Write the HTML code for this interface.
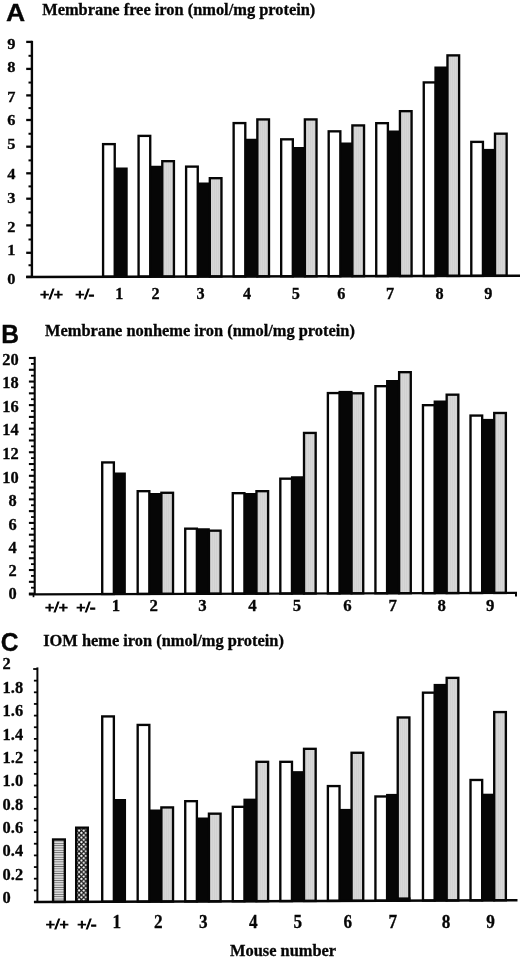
<!DOCTYPE html>
<html><head><meta charset="utf-8"><title>Figure</title>
<style>
html,body{margin:0;padding:0;background:#fff;}
body{width:520px;height:958px;overflow:hidden;font-family:"Liberation Serif",serif;}
svg{display:block;filter:grayscale(1);}
svg text{font-family:"Liberation Serif",serif;font-weight:bold;fill:#060606;stroke:#060606;stroke-width:0.3px;}
svg text.ss{font-family:"Liberation Sans",sans-serif;}
</style></head><body>
<svg width="520" height="958" viewBox="0 0 520 958">
<defs>
<pattern id="gr" width="2" height="2" patternUnits="userSpaceOnUse"><rect width="2" height="2" fill="#d7d7d7"/><rect width="1" height="2" fill="#d1d1d1"/></pattern>
<pattern id="hs" width="4" height="2.32" patternUnits="userSpaceOnUse"><rect width="4" height="2.32" fill="#fff"/><rect width="4" height="1.15" y="0.6" fill="#6a6a6a"/></pattern>
<pattern id="xh" x="0.9" y="0.3" width="4.6" height="4.6" patternUnits="userSpaceOnUse"><rect width="4.6" height="4.6" fill="#fff"/><path d="M-1 -1L5.6 5.6M5.6 -1L-1 5.6" stroke="#151515" stroke-width="1.25"/></pattern>
</defs>
<rect width="520" height="958" fill="#fff"/>
<g opacity="0.999">
<text transform="translate(5.90,21.00) scale(1.07,1)" font-size="24.8" class="ss">A</text>
<text transform="translate(42.20,15.10) scale(1.0,1)" font-size="16.40" text-anchor="start">Membrane free iron (nmol/mg protein)</text>
<line x1="31.90" y1="40.80" x2="31.90" y2="277.50" stroke="#060606" stroke-width="2.4"/>
<line x1="26.20" y1="41.90" x2="31.90" y2="41.90" stroke="#060606" stroke-width="2.3"/>
<line x1="28.50" y1="55.80" x2="31.90" y2="55.80" stroke="#060606" stroke-width="2.0"/>
<line x1="26.20" y1="68.90" x2="31.90" y2="68.90" stroke="#060606" stroke-width="2.3"/>
<line x1="28.50" y1="82.55" x2="31.90" y2="82.55" stroke="#060606" stroke-width="2.0"/>
<line x1="26.20" y1="95.40" x2="31.90" y2="95.40" stroke="#060606" stroke-width="2.3"/>
<line x1="28.50" y1="108.10" x2="31.90" y2="108.10" stroke="#060606" stroke-width="2.0"/>
<line x1="26.20" y1="120.00" x2="31.90" y2="120.00" stroke="#060606" stroke-width="2.3"/>
<line x1="28.50" y1="133.75" x2="31.90" y2="133.75" stroke="#060606" stroke-width="2.0"/>
<line x1="26.20" y1="146.70" x2="31.90" y2="146.70" stroke="#060606" stroke-width="2.3"/>
<line x1="28.50" y1="160.40" x2="31.90" y2="160.40" stroke="#060606" stroke-width="2.0"/>
<line x1="26.20" y1="173.30" x2="31.90" y2="173.30" stroke="#060606" stroke-width="2.3"/>
<line x1="28.50" y1="186.40" x2="31.90" y2="186.40" stroke="#060606" stroke-width="2.0"/>
<line x1="26.20" y1="198.70" x2="31.90" y2="198.70" stroke="#060606" stroke-width="2.3"/>
<line x1="28.50" y1="212.45" x2="31.90" y2="212.45" stroke="#060606" stroke-width="2.0"/>
<line x1="26.20" y1="225.40" x2="31.90" y2="225.40" stroke="#060606" stroke-width="2.3"/>
<line x1="28.50" y1="239.50" x2="31.90" y2="239.50" stroke="#060606" stroke-width="2.0"/>
<line x1="26.20" y1="252.80" x2="31.90" y2="252.80" stroke="#060606" stroke-width="2.3"/>
<line x1="28.50" y1="265.25" x2="31.90" y2="265.25" stroke="#060606" stroke-width="2.0"/>
<line x1="26.20" y1="276.90" x2="31.90" y2="276.90" stroke="#060606" stroke-width="2.3"/>
<text transform="translate(15.40,49.30) scale(1.058,1)" font-size="15.50" text-anchor="end">9</text>
<text transform="translate(15.40,72.30) scale(1.058,1)" font-size="15.50" text-anchor="end">8</text>
<text transform="translate(15.40,101.60) scale(1.058,1)" font-size="15.50" text-anchor="end">7</text>
<text transform="translate(15.40,124.60) scale(1.058,1)" font-size="15.50" text-anchor="end">6</text>
<text transform="translate(15.40,148.70) scale(1.058,1)" font-size="15.50" text-anchor="end">5</text>
<text transform="translate(15.40,178.60) scale(1.058,1)" font-size="15.50" text-anchor="end">4</text>
<text transform="translate(15.40,202.60) scale(1.058,1)" font-size="15.50" text-anchor="end">3</text>
<text transform="translate(15.40,231.80) scale(1.058,1)" font-size="15.50" text-anchor="end">2</text>
<text transform="translate(15.40,255.30) scale(1.058,1)" font-size="15.50" text-anchor="end">1</text>
<text transform="translate(15.40,284.20) scale(1.058,1)" font-size="15.50" text-anchor="end">0</text>
<rect x="113.70" y="167.50" width="14.00" height="110.19" fill="#060606"/>
<rect x="149.20" y="165.75" width="14.00" height="111.86" fill="#060606"/>
<rect x="196.73" y="182.50" width="14.00" height="95.01" fill="#060606"/>
<rect x="244.26" y="138.75" width="14.00" height="138.65" fill="#060606"/>
<rect x="291.79" y="147.00" width="14.00" height="130.29" fill="#060606"/>
<rect x="339.32" y="142.50" width="14.00" height="134.69" fill="#060606"/>
<rect x="386.85" y="130.50" width="14.00" height="146.58" fill="#060606"/>
<rect x="434.38" y="66.50" width="14.00" height="210.48" fill="#060606"/>
<rect x="481.91" y="148.90" width="14.00" height="127.97" fill="#060606"/>
<rect x="103.08" y="144.12" width="11.65" height="132.59" fill="#fff" stroke="#060606" stroke-width="2.35"/>
<rect x="138.58" y="135.88" width="11.65" height="140.76" fill="#fff" stroke="#060606" stroke-width="2.35"/>
<rect x="162.28" y="161.18" width="11.65" height="115.41" fill="url(#gr)" stroke="#060606" stroke-width="2.35"/>
<rect x="186.11" y="166.62" width="11.65" height="109.91" fill="#fff" stroke="#060606" stroke-width="2.35"/>
<rect x="209.81" y="178.18" width="11.65" height="98.30" fill="url(#gr)" stroke="#060606" stroke-width="2.35"/>
<rect x="233.64" y="123.08" width="11.65" height="153.35" fill="#fff" stroke="#060606" stroke-width="2.35"/>
<rect x="257.34" y="119.42" width="11.65" height="156.95" fill="url(#gr)" stroke="#060606" stroke-width="2.35"/>
<rect x="281.17" y="139.33" width="11.65" height="136.99" fill="#fff" stroke="#060606" stroke-width="2.35"/>
<rect x="304.87" y="119.42" width="11.65" height="156.84" fill="url(#gr)" stroke="#060606" stroke-width="2.35"/>
<rect x="328.69" y="131.33" width="11.65" height="144.89" fill="#fff" stroke="#060606" stroke-width="2.35"/>
<rect x="352.39" y="125.42" width="11.65" height="150.74" fill="url(#gr)" stroke="#060606" stroke-width="2.35"/>
<rect x="376.23" y="123.17" width="11.65" height="152.93" fill="#fff" stroke="#060606" stroke-width="2.35"/>
<rect x="399.93" y="111.17" width="11.65" height="164.88" fill="url(#gr)" stroke="#060606" stroke-width="2.35"/>
<rect x="423.76" y="82.42" width="11.65" height="193.58" fill="#fff" stroke="#060606" stroke-width="2.35"/>
<rect x="447.46" y="55.38" width="11.65" height="220.57" fill="url(#gr)" stroke="#060606" stroke-width="2.35"/>
<rect x="471.29" y="141.88" width="11.65" height="134.02" fill="#fff" stroke="#060606" stroke-width="2.35"/>
<rect x="494.99" y="133.68" width="11.65" height="142.17" fill="url(#gr)" stroke="#060606" stroke-width="2.35"/>
<line x1="26.20" y1="276.90" x2="520.00" y2="275.80" stroke="#060606" stroke-width="2.5"/>
<text transform="translate(51.40,298.70) scale(1.1,1)" font-size="14.73" text-anchor="middle" style="stroke-width:0.9px">+/+</text>
<text transform="translate(84.70,298.70) scale(1.1,1)" font-size="14.73" text-anchor="middle" style="stroke-width:0.9px">+/-</text>
<text transform="translate(119.20,299.20) scale(1.0,1)" font-size="16.20" text-anchor="middle">1</text>
<text transform="translate(155.50,299.20) scale(1.0,1)" font-size="16.20" text-anchor="middle">2</text>
<text transform="translate(200.50,299.20) scale(1.0,1)" font-size="16.20" text-anchor="middle">3</text>
<text transform="translate(247.00,299.20) scale(1.0,1)" font-size="16.20" text-anchor="middle">4</text>
<text transform="translate(295.75,299.20) scale(1.0,1)" font-size="16.20" text-anchor="middle">5</text>
<text transform="translate(341.25,299.20) scale(1.0,1)" font-size="16.20" text-anchor="middle">6</text>
<text transform="translate(390.00,299.20) scale(1.0,1)" font-size="16.20" text-anchor="middle">7</text>
<text transform="translate(439.60,299.20) scale(1.0,1)" font-size="16.20" text-anchor="middle">8</text>
<text transform="translate(488.30,299.20) scale(1.0,1)" font-size="16.20" text-anchor="middle">9</text>
<text transform="translate(1.30,343.20) scale(0.97,1)" font-size="25.4" class="ss">B</text>
<text transform="translate(45.00,335.60) scale(1.0,1)" font-size="16.40" text-anchor="start">Membrane nonheme iron (nmol/mg protein)</text>
<line x1="34.70" y1="356.80" x2="34.70" y2="594.50" stroke="#060606" stroke-width="2.1"/>
<line x1="28.90" y1="358.00" x2="34.70" y2="358.00" stroke="#060606" stroke-width="2.1"/>
<line x1="31.00" y1="363.89" x2="34.70" y2="363.89" stroke="#060606" stroke-width="1.8"/>
<line x1="28.90" y1="369.78" x2="34.70" y2="369.78" stroke="#060606" stroke-width="2.1"/>
<line x1="31.00" y1="375.67" x2="34.70" y2="375.67" stroke="#060606" stroke-width="1.8"/>
<line x1="28.90" y1="381.56" x2="34.70" y2="381.56" stroke="#060606" stroke-width="2.1"/>
<line x1="31.00" y1="387.45" x2="34.70" y2="387.45" stroke="#060606" stroke-width="1.8"/>
<line x1="28.90" y1="393.34" x2="34.70" y2="393.34" stroke="#060606" stroke-width="2.1"/>
<line x1="31.00" y1="399.23" x2="34.70" y2="399.23" stroke="#060606" stroke-width="1.8"/>
<line x1="28.90" y1="405.12" x2="34.70" y2="405.12" stroke="#060606" stroke-width="2.1"/>
<line x1="31.00" y1="411.01" x2="34.70" y2="411.01" stroke="#060606" stroke-width="1.8"/>
<line x1="28.90" y1="416.90" x2="34.70" y2="416.90" stroke="#060606" stroke-width="2.1"/>
<line x1="31.00" y1="422.79" x2="34.70" y2="422.79" stroke="#060606" stroke-width="1.8"/>
<line x1="28.90" y1="428.68" x2="34.70" y2="428.68" stroke="#060606" stroke-width="2.1"/>
<line x1="31.00" y1="434.57" x2="34.70" y2="434.57" stroke="#060606" stroke-width="1.8"/>
<line x1="28.90" y1="440.46" x2="34.70" y2="440.46" stroke="#060606" stroke-width="2.1"/>
<line x1="31.00" y1="446.35" x2="34.70" y2="446.35" stroke="#060606" stroke-width="1.8"/>
<line x1="28.90" y1="452.24" x2="34.70" y2="452.24" stroke="#060606" stroke-width="2.1"/>
<line x1="31.00" y1="458.13" x2="34.70" y2="458.13" stroke="#060606" stroke-width="1.8"/>
<line x1="28.90" y1="464.02" x2="34.70" y2="464.02" stroke="#060606" stroke-width="2.1"/>
<line x1="31.00" y1="469.91" x2="34.70" y2="469.91" stroke="#060606" stroke-width="1.8"/>
<line x1="28.90" y1="475.80" x2="34.70" y2="475.80" stroke="#060606" stroke-width="2.1"/>
<line x1="31.00" y1="481.69" x2="34.70" y2="481.69" stroke="#060606" stroke-width="1.8"/>
<line x1="28.90" y1="487.58" x2="34.70" y2="487.58" stroke="#060606" stroke-width="2.1"/>
<line x1="31.00" y1="493.47" x2="34.70" y2="493.47" stroke="#060606" stroke-width="1.8"/>
<line x1="28.90" y1="499.36" x2="34.70" y2="499.36" stroke="#060606" stroke-width="2.1"/>
<line x1="31.00" y1="505.25" x2="34.70" y2="505.25" stroke="#060606" stroke-width="1.8"/>
<line x1="28.90" y1="511.14" x2="34.70" y2="511.14" stroke="#060606" stroke-width="2.1"/>
<line x1="31.00" y1="517.03" x2="34.70" y2="517.03" stroke="#060606" stroke-width="1.8"/>
<line x1="28.90" y1="522.92" x2="34.70" y2="522.92" stroke="#060606" stroke-width="2.1"/>
<line x1="31.00" y1="528.81" x2="34.70" y2="528.81" stroke="#060606" stroke-width="1.8"/>
<line x1="28.90" y1="534.70" x2="34.70" y2="534.70" stroke="#060606" stroke-width="2.1"/>
<line x1="31.00" y1="540.59" x2="34.70" y2="540.59" stroke="#060606" stroke-width="1.8"/>
<line x1="28.90" y1="546.48" x2="34.70" y2="546.48" stroke="#060606" stroke-width="2.1"/>
<line x1="31.00" y1="552.37" x2="34.70" y2="552.37" stroke="#060606" stroke-width="1.8"/>
<line x1="28.90" y1="558.26" x2="34.70" y2="558.26" stroke="#060606" stroke-width="2.1"/>
<line x1="31.00" y1="564.15" x2="34.70" y2="564.15" stroke="#060606" stroke-width="1.8"/>
<line x1="28.90" y1="570.04" x2="34.70" y2="570.04" stroke="#060606" stroke-width="2.1"/>
<line x1="31.00" y1="575.93" x2="34.70" y2="575.93" stroke="#060606" stroke-width="1.8"/>
<line x1="28.90" y1="581.82" x2="34.70" y2="581.82" stroke="#060606" stroke-width="2.1"/>
<line x1="31.00" y1="587.71" x2="34.70" y2="587.71" stroke="#060606" stroke-width="1.8"/>
<line x1="28.90" y1="593.60" x2="34.70" y2="593.60" stroke="#060606" stroke-width="2.1"/>
<text transform="translate(18.60,365.10) scale(1.0,1)" font-size="16.40" text-anchor="end">20</text>
<text transform="translate(18.60,388.10) scale(1.0,1)" font-size="16.40" text-anchor="end">18</text>
<text transform="translate(18.60,412.10) scale(1.0,1)" font-size="16.40" text-anchor="end">16</text>
<text transform="translate(18.60,435.10) scale(1.0,1)" font-size="16.40" text-anchor="end">14</text>
<text transform="translate(18.60,458.85) scale(1.0,1)" font-size="16.40" text-anchor="end">12</text>
<text transform="translate(18.60,482.60) scale(1.0,1)" font-size="16.40" text-anchor="end">10</text>
<text transform="translate(16.70,506.10) scale(1.0,1)" font-size="16.40" text-anchor="end">8</text>
<text transform="translate(16.70,529.85) scale(1.0,1)" font-size="16.40" text-anchor="end">6</text>
<text transform="translate(16.70,553.10) scale(1.0,1)" font-size="16.40" text-anchor="end">4</text>
<text transform="translate(16.70,576.10) scale(1.0,1)" font-size="16.40" text-anchor="end">2</text>
<text transform="translate(16.70,599.00) scale(1.0,1)" font-size="16.40" text-anchor="end">0</text>
<rect x="112.85" y="472.50" width="13.00" height="122.46" fill="#060606"/>
<rect x="148.30" y="493.00" width="14.00" height="101.86" fill="#060606"/>
<rect x="195.85" y="528.25" width="14.00" height="66.49" fill="#060606"/>
<rect x="243.40" y="493.00" width="14.00" height="101.61" fill="#060606"/>
<rect x="290.95" y="476.25" width="14.00" height="118.23" fill="#060606"/>
<rect x="338.50" y="390.90" width="14.00" height="203.46" fill="#060606"/>
<rect x="386.05" y="380.00" width="14.00" height="214.23" fill="#060606"/>
<rect x="433.60" y="400.50" width="14.00" height="193.60" fill="#060606"/>
<rect x="481.15" y="418.90" width="14.00" height="175.08" fill="#060606"/>
<rect x="102.22" y="462.43" width="11.65" height="131.57" fill="#fff" stroke="#060606" stroke-width="2.35"/>
<rect x="137.68" y="491.18" width="11.65" height="102.72" fill="#fff" stroke="#060606" stroke-width="2.35"/>
<rect x="161.38" y="492.78" width="11.65" height="101.06" fill="url(#gr)" stroke="#060606" stroke-width="2.35"/>
<rect x="185.23" y="528.67" width="11.65" height="65.09" fill="#fff" stroke="#060606" stroke-width="2.35"/>
<rect x="208.93" y="530.67" width="11.65" height="63.03" fill="url(#gr)" stroke="#060606" stroke-width="2.35"/>
<rect x="232.78" y="493.18" width="11.65" height="100.47" fill="#fff" stroke="#060606" stroke-width="2.35"/>
<rect x="256.47" y="491.18" width="11.65" height="102.40" fill="url(#gr)" stroke="#060606" stroke-width="2.35"/>
<rect x="280.32" y="478.68" width="11.65" height="114.84" fill="#fff" stroke="#060606" stroke-width="2.35"/>
<rect x="304.02" y="432.93" width="11.65" height="160.53" fill="url(#gr)" stroke="#060606" stroke-width="2.35"/>
<rect x="327.88" y="393.07" width="11.65" height="200.31" fill="#fff" stroke="#060606" stroke-width="2.35"/>
<rect x="351.57" y="393.28" width="11.65" height="200.05" fill="url(#gr)" stroke="#060606" stroke-width="2.35"/>
<rect x="375.43" y="386.18" width="11.65" height="207.09" fill="#fff" stroke="#060606" stroke-width="2.35"/>
<rect x="399.12" y="372.18" width="11.65" height="221.02" fill="url(#gr)" stroke="#060606" stroke-width="2.35"/>
<rect x="422.97" y="405.18" width="11.65" height="187.96" fill="#fff" stroke="#060606" stroke-width="2.35"/>
<rect x="446.67" y="394.68" width="11.65" height="198.40" fill="url(#gr)" stroke="#060606" stroke-width="2.35"/>
<rect x="470.52" y="415.57" width="11.65" height="177.43" fill="#fff" stroke="#060606" stroke-width="2.35"/>
<rect x="494.22" y="412.98" width="11.65" height="179.97" fill="url(#gr)" stroke="#060606" stroke-width="2.35"/>
<line x1="28.90" y1="594.30" x2="517.00" y2="592.90" stroke="#060606" stroke-width="2.3"/>
<line x1="33.50" y1="594.00" x2="33.50" y2="597.20" stroke="#060606" stroke-width="1.7"/>
<line x1="516.00" y1="592.90" x2="516.00" y2="596.50" stroke="#060606" stroke-width="2.0"/>
<text transform="translate(56.60,611.90) scale(1.1,1)" font-size="14.73" text-anchor="middle" style="stroke-width:0.9px">+/+</text>
<text transform="translate(85.80,611.90) scale(1.1,1)" font-size="14.73" text-anchor="middle" style="stroke-width:0.9px">+/-</text>
<text transform="translate(116.00,610.60) scale(1.0,1)" font-size="16.80" text-anchor="middle">1</text>
<text transform="translate(153.75,610.60) scale(1.0,1)" font-size="16.80" text-anchor="middle">2</text>
<text transform="translate(202.50,610.60) scale(1.0,1)" font-size="16.80" text-anchor="middle">3</text>
<text transform="translate(252.50,610.60) scale(1.0,1)" font-size="16.80" text-anchor="middle">4</text>
<text transform="translate(296.85,610.60) scale(1.0,1)" font-size="16.80" text-anchor="middle">5</text>
<text transform="translate(347.40,610.60) scale(1.0,1)" font-size="16.80" text-anchor="middle">6</text>
<text transform="translate(392.60,610.60) scale(1.0,1)" font-size="16.80" text-anchor="middle">7</text>
<text transform="translate(441.60,610.60) scale(1.0,1)" font-size="16.80" text-anchor="middle">8</text>
<text transform="translate(490.20,610.60) scale(1.0,1)" font-size="16.80" text-anchor="middle">9</text>
<text transform="translate(0.70,651.30) scale(0.955,1)" font-size="25.8" class="ss">C</text>
<text transform="translate(43.20,645.90) scale(1.0,1)" font-size="16.40" text-anchor="start">IOM heme iron (nmol/mg protein)</text>
<line x1="37.40" y1="667.40" x2="37.40" y2="902.50" stroke="#060606" stroke-width="2"/>
<line x1="33.20" y1="669.00" x2="37.40" y2="669.00" stroke="#060606" stroke-width="1.8"/>
<line x1="33.90" y1="680.65" x2="37.40" y2="680.65" stroke="#060606" stroke-width="1.8"/>
<line x1="33.90" y1="692.30" x2="37.40" y2="692.30" stroke="#060606" stroke-width="1.8"/>
<line x1="33.90" y1="703.95" x2="37.40" y2="703.95" stroke="#060606" stroke-width="1.8"/>
<line x1="33.90" y1="715.60" x2="37.40" y2="715.60" stroke="#060606" stroke-width="1.8"/>
<line x1="33.90" y1="727.25" x2="37.40" y2="727.25" stroke="#060606" stroke-width="1.8"/>
<line x1="33.90" y1="738.90" x2="37.40" y2="738.90" stroke="#060606" stroke-width="1.8"/>
<line x1="33.90" y1="750.55" x2="37.40" y2="750.55" stroke="#060606" stroke-width="1.8"/>
<line x1="33.90" y1="762.20" x2="37.40" y2="762.20" stroke="#060606" stroke-width="1.8"/>
<line x1="33.90" y1="773.85" x2="37.40" y2="773.85" stroke="#060606" stroke-width="1.8"/>
<line x1="33.90" y1="785.50" x2="37.40" y2="785.50" stroke="#060606" stroke-width="1.8"/>
<line x1="33.90" y1="797.15" x2="37.40" y2="797.15" stroke="#060606" stroke-width="1.8"/>
<line x1="33.90" y1="808.80" x2="37.40" y2="808.80" stroke="#060606" stroke-width="1.8"/>
<line x1="33.90" y1="820.45" x2="37.40" y2="820.45" stroke="#060606" stroke-width="1.8"/>
<line x1="33.90" y1="832.10" x2="37.40" y2="832.10" stroke="#060606" stroke-width="1.8"/>
<line x1="33.90" y1="843.75" x2="37.40" y2="843.75" stroke="#060606" stroke-width="1.8"/>
<line x1="33.90" y1="855.40" x2="37.40" y2="855.40" stroke="#060606" stroke-width="1.8"/>
<line x1="33.90" y1="867.05" x2="37.40" y2="867.05" stroke="#060606" stroke-width="1.8"/>
<line x1="33.90" y1="878.70" x2="37.40" y2="878.70" stroke="#060606" stroke-width="1.8"/>
<line x1="33.90" y1="890.35" x2="37.40" y2="890.35" stroke="#060606" stroke-width="1.8"/>
<line x1="33.90" y1="902.00" x2="37.40" y2="902.00" stroke="#060606" stroke-width="1.8"/>
<text transform="translate(2.60,668.70) scale(1.03,1)" font-size="15.92" text-anchor="start">2</text>
<text transform="translate(2.60,692.60) scale(1.03,1)" font-size="15.92" text-anchor="start">1.8</text>
<text transform="translate(2.60,715.90) scale(1.03,1)" font-size="15.92" text-anchor="start">1.6</text>
<text transform="translate(2.60,739.60) scale(1.03,1)" font-size="15.92" text-anchor="start">1.4</text>
<text transform="translate(2.60,763.10) scale(1.03,1)" font-size="15.92" text-anchor="start">1.2</text>
<text transform="translate(2.60,786.40) scale(1.03,1)" font-size="15.92" text-anchor="start">1.0</text>
<text transform="translate(2.60,810.40) scale(1.03,1)" font-size="15.92" text-anchor="start">0.8</text>
<text transform="translate(2.60,833.30) scale(1.03,1)" font-size="15.92" text-anchor="start">0.6</text>
<text transform="translate(2.60,856.10) scale(1.03,1)" font-size="15.92" text-anchor="start">0.4</text>
<text transform="translate(2.60,879.60) scale(1.03,1)" font-size="15.92" text-anchor="start">0.2</text>
<text transform="translate(2.60,903.40) scale(1.03,1)" font-size="15.92" text-anchor="start">0</text>
<rect x="112.85" y="799.00" width="13.20" height="103.68" fill="#060606"/>
<rect x="148.30" y="809.50" width="14.00" height="93.05" fill="#060606"/>
<rect x="195.85" y="817.50" width="14.00" height="84.87" fill="#060606"/>
<rect x="243.40" y="798.65" width="14.00" height="103.55" fill="#060606"/>
<rect x="290.95" y="771.15" width="14.00" height="130.87" fill="#060606"/>
<rect x="338.50" y="808.90" width="14.00" height="92.94" fill="#060606"/>
<rect x="386.05" y="793.90" width="14.00" height="107.76" fill="#060606"/>
<rect x="433.60" y="683.90" width="14.00" height="217.59" fill="#060606"/>
<rect x="481.15" y="793.70" width="14.00" height="107.61" fill="#060606"/>
<rect x="53.07" y="839.47" width="11.75" height="62.43" fill="url(#hs)" stroke="#060606" stroke-width="2.35"/>
<rect x="76.17" y="827.67" width="11.65" height="74.15" fill="url(#xh)" stroke="#060606" stroke-width="2.35"/>
<rect x="102.22" y="716.42" width="11.65" height="185.30" fill="#fff" stroke="#060606" stroke-width="2.35"/>
<rect x="137.68" y="724.92" width="11.65" height="176.67" fill="#fff" stroke="#060606" stroke-width="2.35"/>
<rect x="161.38" y="807.42" width="11.65" height="94.08" fill="url(#gr)" stroke="#060606" stroke-width="2.35"/>
<rect x="185.23" y="801.17" width="11.65" height="100.24" fill="#fff" stroke="#060606" stroke-width="2.35"/>
<rect x="208.93" y="813.67" width="11.65" height="87.65" fill="url(#gr)" stroke="#060606" stroke-width="2.35"/>
<rect x="232.78" y="806.82" width="11.65" height="94.41" fill="#fff" stroke="#060606" stroke-width="2.35"/>
<rect x="256.47" y="761.82" width="11.65" height="139.33" fill="url(#gr)" stroke="#060606" stroke-width="2.35"/>
<rect x="280.32" y="761.82" width="11.65" height="139.24" fill="#fff" stroke="#060606" stroke-width="2.35"/>
<rect x="304.02" y="748.82" width="11.65" height="152.15" fill="url(#gr)" stroke="#060606" stroke-width="2.35"/>
<rect x="327.88" y="786.07" width="11.65" height="114.81" fill="#fff" stroke="#060606" stroke-width="2.35"/>
<rect x="351.57" y="752.77" width="11.65" height="148.02" fill="url(#gr)" stroke="#060606" stroke-width="2.35"/>
<rect x="375.43" y="796.47" width="11.65" height="104.23" fill="#fff" stroke="#060606" stroke-width="2.35"/>
<rect x="397.73" y="717.47" width="11.65" height="183.15" fill="url(#gr)" stroke="#060606" stroke-width="2.35"/>
<rect x="422.97" y="692.67" width="11.65" height="207.86" fill="#fff" stroke="#060606" stroke-width="2.35"/>
<rect x="446.67" y="677.88" width="11.65" height="222.57" fill="url(#gr)" stroke="#060606" stroke-width="2.35"/>
<rect x="470.52" y="779.97" width="11.65" height="120.38" fill="#fff" stroke="#060606" stroke-width="2.35"/>
<rect x="494.22" y="712.07" width="11.65" height="188.19" fill="url(#gr)" stroke="#060606" stroke-width="2.35"/>
<line x1="34.00" y1="902.00" x2="517.50" y2="900.20" stroke="#060606" stroke-width="2.5"/>
<rect x="397.5" y="897.4" width="13" height="3.5" fill="#060606"/>
<text transform="translate(57.30,928.50) scale(1.1,1)" font-size="14.73" text-anchor="middle" style="stroke-width:0.9px">+/+</text>
<text transform="translate(86.80,928.50) scale(1.1,1)" font-size="14.73" text-anchor="middle" style="stroke-width:0.9px">+/-</text>
<text transform="translate(116.80,928.10) scale(0.95,1)" font-size="18.11" text-anchor="middle">1</text>
<text transform="translate(158.30,928.10) scale(0.95,1)" font-size="18.11" text-anchor="middle">2</text>
<text transform="translate(203.40,928.10) scale(0.95,1)" font-size="18.11" text-anchor="middle">3</text>
<text transform="translate(253.40,928.10) scale(0.95,1)" font-size="18.11" text-anchor="middle">4</text>
<text transform="translate(297.90,928.10) scale(0.95,1)" font-size="18.11" text-anchor="middle">5</text>
<text transform="translate(347.80,928.10) scale(0.95,1)" font-size="18.11" text-anchor="middle">6</text>
<text transform="translate(392.90,928.10) scale(0.95,1)" font-size="18.11" text-anchor="middle">7</text>
<text transform="translate(446.10,928.10) scale(0.95,1)" font-size="18.11" text-anchor="middle">8</text>
<text transform="translate(490.50,928.10) scale(0.95,1)" font-size="18.11" text-anchor="middle">9</text>
<text transform="translate(230.00,955.50) scale(1.0,1)" font-size="16.40" text-anchor="start">Mouse number</text>
</g>
</svg>
</body></html>
